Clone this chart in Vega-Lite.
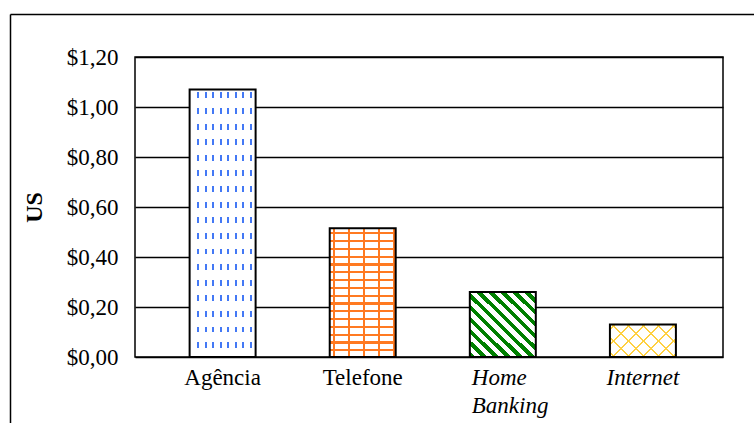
{
  "$schema": "https://vega.github.io/schema/vega-lite/v6.json",
  "width": 588,
  "height": 300,
  "autosize": {"type": "none"},
  "padding": {"left": 135, "top": 57, "right": 31, "bottom": 66},
  "background": "white",
  "config": {
    "view": {"stroke": "black", "strokeWidth": 1.5},
    "font": "Liberation Serif",
    "axis": {"labelFont": "Liberation Serif", "labelColor": "black", "titleFont": "Liberation Serif", "titleColor": "black"}
  },
  "data": {
    "values": [
      {"canal": "Agência", "custo": 1.07},
      {"canal": "Telefone", "custo": 0.515},
      {"canal": "Home Banking", "custo": 0.26},
      {"canal": "Internet", "custo": 0.13}
    ]
  },
  "layer": [
    {
      "encoding": {
        "x": {
          "field": "canal", "type": "nominal", "sort": null,
          "scale": {"paddingInner": 0.529, "paddingOuter": 0.363, "align": 0.537},
          "axis": {
            "orient": "bottom", "title": null, "domain": false, "ticks": false, "grid": false,
            "labelAngle": 0, "labelPadding": 9, "labelFont": "Liberation Serif", "labelFontSize": 23, "labelLineHeight": 28,
            "labelOverlap": false, "labelBound": false,
            "labelExpr": "datum.value === 'Home Banking' ? ['Home', 'Banking'] : datum.label",
            "labelFontStyle": {"condition": {"test": "datum.value === 'Home Banking' || datum.value === 'Internet'", "value": "italic"}, "value": "normal"},
            "labelAlign": {"condition": {"test": "datum.value === 'Home Banking'", "value": "left"}, "value": "center"},
            "labelOffset": {"condition": {"test": "datum.value === 'Home Banking'", "value": -31}, "value": 0}
          }
        },
        "y": {
          "field": "custo", "type": "quantitative",
          "scale": {"domain": [0, 1.2], "nice": false},
          "axis": {
            "orient": "left", "title": "US", "titleFont": "Liberation Serif", "titleFontSize": 24, "titleFontWeight": "bold", "titlePadding": 20,
            "values": [0, 0.2, 0.4, 0.6, 0.8, 1, 1.2],
            "labelExpr": "'$' + replace(format(datum.value, '.2f'), '.', ',')",
            "domain": false, "ticks": false, "grid": true, "gridColor": "black", "gridWidth": 1.3,
            "labelFont": "Liberation Serif", "labelPadding": 17, "labelFontSize": 23
          }
        }
      },
      "layer": [
        {
          "transform": [{"filter": "datum.canal === 'Agência'"}],
          "mark": {"type": "bar", "fill": {"gradient": "linear", "x1": 0, "y1": 0, "x2": 1, "y2": 0, "stops": [
            {"offset": 0, "color": "white"},
            {"offset": 0.1167, "color": "white"}, {"offset": 0.1167, "color": "#4479f5"}, {"offset": 0.147, "color": "#4479f5"}, {"offset": 0.147, "color": "white"},
            {"offset": 0.2303, "color": "white"}, {"offset": 0.2303, "color": "#4479f5"}, {"offset": 0.2606, "color": "#4479f5"}, {"offset": 0.2606, "color": "white"},
            {"offset": 0.3439, "color": "white"}, {"offset": 0.3439, "color": "#4479f5"}, {"offset": 0.3742, "color": "#4479f5"}, {"offset": 0.3742, "color": "white"},
            {"offset": 0.4576, "color": "white"}, {"offset": 0.4576, "color": "#4479f5"}, {"offset": 0.4879, "color": "#4479f5"}, {"offset": 0.4879, "color": "white"},
            {"offset": 0.5712, "color": "white"}, {"offset": 0.5712, "color": "#4479f5"}, {"offset": 0.6015, "color": "#4479f5"}, {"offset": 0.6015, "color": "white"},
            {"offset": 0.6848, "color": "white"}, {"offset": 0.6848, "color": "#4479f5"}, {"offset": 0.7152, "color": "#4479f5"}, {"offset": 0.7152, "color": "white"},
            {"offset": 0.7985, "color": "white"}, {"offset": 0.7985, "color": "#4479f5"}, {"offset": 0.8288, "color": "#4479f5"}, {"offset": 0.8288, "color": "white"},
            {"offset": 0.9121, "color": "white"}, {"offset": 0.9121, "color": "#4479f5"}, {"offset": 0.9424, "color": "#4479f5"}, {"offset": 0.9424, "color": "white"},
            {"offset": 1, "color": "white"}
          ]}, "strokeWidth": 0}
        },
        {
          "transform": [{"filter": "datum.canal === 'Agência'"}],
          "mark": {"type": "bar", "fill": {"gradient": "linear", "x1": 0, "y1": 0, "x2": 0, "y2": 1, "stops": [
            {"offset": 0, "color": "white"},
            {"offset": 0.0112, "color": "white"}, {"offset": 0.0112, "color": "rgba(255,255,255,0)"}, {"offset": 0.0336, "color": "rgba(255,255,255,0)"}, {"offset": 0.0336, "color": "white"},
            {"offset": 0.0695, "color": "white"}, {"offset": 0.0695, "color": "rgba(255,255,255,0)"}, {"offset": 0.0919, "color": "rgba(255,255,255,0)"}, {"offset": 0.0919, "color": "white"},
            {"offset": 0.1278, "color": "white"}, {"offset": 0.1278, "color": "rgba(255,255,255,0)"}, {"offset": 0.1502, "color": "rgba(255,255,255,0)"}, {"offset": 0.1502, "color": "white"},
            {"offset": 0.1862, "color": "white"}, {"offset": 0.1862, "color": "rgba(255,255,255,0)"}, {"offset": 0.2086, "color": "rgba(255,255,255,0)"}, {"offset": 0.2086, "color": "white"},
            {"offset": 0.2445, "color": "white"}, {"offset": 0.2445, "color": "rgba(255,255,255,0)"}, {"offset": 0.2669, "color": "rgba(255,255,255,0)"}, {"offset": 0.2669, "color": "white"},
            {"offset": 0.3028, "color": "white"}, {"offset": 0.3028, "color": "rgba(255,255,255,0)"}, {"offset": 0.3252, "color": "rgba(255,255,255,0)"}, {"offset": 0.3252, "color": "white"},
            {"offset": 0.3611, "color": "white"}, {"offset": 0.3611, "color": "rgba(255,255,255,0)"}, {"offset": 0.3835, "color": "rgba(255,255,255,0)"}, {"offset": 0.3835, "color": "white"},
            {"offset": 0.4194, "color": "white"}, {"offset": 0.4194, "color": "rgba(255,255,255,0)"}, {"offset": 0.4418, "color": "rgba(255,255,255,0)"}, {"offset": 0.4418, "color": "white"},
            {"offset": 0.4778, "color": "white"}, {"offset": 0.4778, "color": "rgba(255,255,255,0)"}, {"offset": 0.5002, "color": "rgba(255,255,255,0)"}, {"offset": 0.5002, "color": "white"},
            {"offset": 0.5361, "color": "white"}, {"offset": 0.5361, "color": "rgba(255,255,255,0)"}, {"offset": 0.5585, "color": "rgba(255,255,255,0)"}, {"offset": 0.5585, "color": "white"},
            {"offset": 0.5944, "color": "white"}, {"offset": 0.5944, "color": "rgba(255,255,255,0)"}, {"offset": 0.6168, "color": "rgba(255,255,255,0)"}, {"offset": 0.6168, "color": "white"},
            {"offset": 0.6527, "color": "white"}, {"offset": 0.6527, "color": "rgba(255,255,255,0)"}, {"offset": 0.6751, "color": "rgba(255,255,255,0)"}, {"offset": 0.6751, "color": "white"},
            {"offset": 0.711, "color": "white"}, {"offset": 0.711, "color": "rgba(255,255,255,0)"}, {"offset": 0.7334, "color": "rgba(255,255,255,0)"}, {"offset": 0.7334, "color": "white"},
            {"offset": 0.7694, "color": "white"}, {"offset": 0.7694, "color": "rgba(255,255,255,0)"}, {"offset": 0.7918, "color": "rgba(255,255,255,0)"}, {"offset": 0.7918, "color": "white"},
            {"offset": 0.8277, "color": "white"}, {"offset": 0.8277, "color": "rgba(255,255,255,0)"}, {"offset": 0.8501, "color": "rgba(255,255,255,0)"}, {"offset": 0.8501, "color": "white"},
            {"offset": 0.886, "color": "white"}, {"offset": 0.886, "color": "rgba(255,255,255,0)"}, {"offset": 0.9084, "color": "rgba(255,255,255,0)"}, {"offset": 0.9084, "color": "white"},
            {"offset": 0.9443, "color": "white"}, {"offset": 0.9443, "color": "rgba(255,255,255,0)"}, {"offset": 0.9667, "color": "rgba(255,255,255,0)"}, {"offset": 0.9667, "color": "white"},
            {"offset": 1, "color": "white"}
          ]}, "strokeWidth": 0}
        },
        {
          "transform": [{"filter": "datum.canal === 'Telefone'"}],
          "mark": {"type": "bar", "fill": {"gradient": "linear", "x1": 0, "y1": 0, "x2": 0, "y2": 1, "stops": [
            {"offset": 0, "color": "white"},
            {"offset": 0.0303, "color": "white"}, {"offset": 0.0303, "color": "#ff7a21"}, {"offset": 0.0474, "color": "#ff7a21"}, {"offset": 0.0474, "color": "white"},
            {"offset": 0.0909, "color": "white"}, {"offset": 0.0909, "color": "#ff7a21"}, {"offset": 0.108, "color": "#ff7a21"}, {"offset": 0.108, "color": "white"},
            {"offset": 0.1515, "color": "white"}, {"offset": 0.1515, "color": "#ff7a21"}, {"offset": 0.1685, "color": "#ff7a21"}, {"offset": 0.1685, "color": "white"},
            {"offset": 0.212, "color": "white"}, {"offset": 0.212, "color": "#ff7a21"}, {"offset": 0.2291, "color": "#ff7a21"}, {"offset": 0.2291, "color": "white"},
            {"offset": 0.2726, "color": "white"}, {"offset": 0.2726, "color": "#ff7a21"}, {"offset": 0.2897, "color": "#ff7a21"}, {"offset": 0.2897, "color": "white"},
            {"offset": 0.3332, "color": "white"}, {"offset": 0.3332, "color": "#ff7a21"}, {"offset": 0.3503, "color": "#ff7a21"}, {"offset": 0.3503, "color": "white"},
            {"offset": 0.3938, "color": "white"}, {"offset": 0.3938, "color": "#ff7a21"}, {"offset": 0.4109, "color": "#ff7a21"}, {"offset": 0.4109, "color": "white"},
            {"offset": 0.4544, "color": "white"}, {"offset": 0.4544, "color": "#ff7a21"}, {"offset": 0.4715, "color": "#ff7a21"}, {"offset": 0.4715, "color": "white"},
            {"offset": 0.515, "color": "white"}, {"offset": 0.515, "color": "#ff7a21"}, {"offset": 0.532, "color": "#ff7a21"}, {"offset": 0.532, "color": "white"},
            {"offset": 0.5755, "color": "white"}, {"offset": 0.5755, "color": "#ff7a21"}, {"offset": 0.5926, "color": "#ff7a21"}, {"offset": 0.5926, "color": "white"},
            {"offset": 0.6361, "color": "white"}, {"offset": 0.6361, "color": "#ff7a21"}, {"offset": 0.6532, "color": "#ff7a21"}, {"offset": 0.6532, "color": "white"},
            {"offset": 0.6967, "color": "white"}, {"offset": 0.6967, "color": "#ff7a21"}, {"offset": 0.7138, "color": "#ff7a21"}, {"offset": 0.7138, "color": "white"},
            {"offset": 0.7573, "color": "white"}, {"offset": 0.7573, "color": "#ff7a21"}, {"offset": 0.7744, "color": "#ff7a21"}, {"offset": 0.7744, "color": "white"},
            {"offset": 0.8179, "color": "white"}, {"offset": 0.8179, "color": "#ff7a21"}, {"offset": 0.835, "color": "#ff7a21"}, {"offset": 0.835, "color": "white"},
            {"offset": 0.8784, "color": "white"}, {"offset": 0.8784, "color": "#ff7a21"}, {"offset": 0.8955, "color": "#ff7a21"}, {"offset": 0.8955, "color": "white"},
            {"offset": 0.939, "color": "white"}, {"offset": 0.939, "color": "#ff7a21"}, {"offset": 0.9561, "color": "#ff7a21"}, {"offset": 0.9561, "color": "white"},
            {"offset": 1, "color": "white"}
          ]}, "strokeWidth": 0}
        },
        {
          "transform": [{"filter": "datum.canal === 'Telefone'"}],
          "mark": {"type": "bar", "fill": {"gradient": "linear", "x1": 0, "y1": 0, "x2": 1, "y2": 0, "stops": [
            {"offset": 0, "color": "rgba(255,255,255,0)"},
            {"offset": 0.0455, "color": "rgba(255,255,255,0)"}, {"offset": 0.0455, "color": "#ff7a21"}, {"offset": 0.0758, "color": "#ff7a21"}, {"offset": 0.0758, "color": "rgba(255,255,255,0)"},
            {"offset": 0.2727, "color": "rgba(255,255,255,0)"}, {"offset": 0.2727, "color": "#ff7a21"}, {"offset": 0.303, "color": "#ff7a21"}, {"offset": 0.303, "color": "rgba(255,255,255,0)"},
            {"offset": 0.5, "color": "rgba(255,255,255,0)"}, {"offset": 0.5, "color": "#ff7a21"}, {"offset": 0.5303, "color": "#ff7a21"}, {"offset": 0.5303, "color": "rgba(255,255,255,0)"},
            {"offset": 0.7273, "color": "rgba(255,255,255,0)"}, {"offset": 0.7273, "color": "#ff7a21"}, {"offset": 0.7576, "color": "#ff7a21"}, {"offset": 0.7576, "color": "rgba(255,255,255,0)"},
            {"offset": 0.9545, "color": "rgba(255,255,255,0)"}, {"offset": 0.9545, "color": "#ff7a21"}, {"offset": 0.9848, "color": "#ff7a21"}, {"offset": 0.9848, "color": "rgba(255,255,255,0)"},
            {"offset": 1, "color": "rgba(255,255,255,0)"}
          ]}, "strokeWidth": 0}
        },
        {
          "transform": [{"filter": "datum.canal === 'Home Banking'"}],
          "mark": {"type": "bar", "fill": {"gradient": "linear", "x1": 0, "y1": 1, "x2": 1, "y2": 0, "stops": [
            {"offset": 0, "color": "#008000"}, {"offset": 0.041, "color": "#008000"}, {"offset": 0.041, "color": "white"},
            {"offset": 0.0909, "color": "white"}, {"offset": 0.0909, "color": "#008000"}, {"offset": 0.1319, "color": "#008000"}, {"offset": 0.1319, "color": "white"},
            {"offset": 0.1818, "color": "white"}, {"offset": 0.1818, "color": "#008000"}, {"offset": 0.2228, "color": "#008000"}, {"offset": 0.2228, "color": "white"},
            {"offset": 0.2727, "color": "white"}, {"offset": 0.2727, "color": "#008000"}, {"offset": 0.3137, "color": "#008000"}, {"offset": 0.3137, "color": "white"},
            {"offset": 0.3636, "color": "white"}, {"offset": 0.3636, "color": "#008000"}, {"offset": 0.4046, "color": "#008000"}, {"offset": 0.4046, "color": "white"},
            {"offset": 0.4545, "color": "white"}, {"offset": 0.4545, "color": "#008000"}, {"offset": 0.4955, "color": "#008000"}, {"offset": 0.4955, "color": "white"},
            {"offset": 0.5455, "color": "white"}, {"offset": 0.5455, "color": "#008000"}, {"offset": 0.5865, "color": "#008000"}, {"offset": 0.5865, "color": "white"},
            {"offset": 0.6364, "color": "white"}, {"offset": 0.6364, "color": "#008000"}, {"offset": 0.6774, "color": "#008000"}, {"offset": 0.6774, "color": "white"},
            {"offset": 0.7273, "color": "white"}, {"offset": 0.7273, "color": "#008000"}, {"offset": 0.7683, "color": "#008000"}, {"offset": 0.7683, "color": "white"},
            {"offset": 0.8182, "color": "white"}, {"offset": 0.8182, "color": "#008000"}, {"offset": 0.8592, "color": "#008000"}, {"offset": 0.8592, "color": "white"},
            {"offset": 0.9091, "color": "white"}, {"offset": 0.9091, "color": "#008000"}, {"offset": 0.9501, "color": "#008000"}, {"offset": 0.9501, "color": "white"},
            {"offset": 1, "color": "white"}
          ]}, "strokeWidth": 0}
        },
        {
          "transform": [{"filter": "datum.canal === 'Internet'"}],
          "mark": {"type": "bar", "fill": {"gradient": "linear", "x1": 0, "y1": 1, "x2": 1.2011, "y2": 0.4085, "stops": [
            {"offset": 0, "color": "white"},
            {"offset": 0.0392, "color": "white"}, {"offset": 0.0392, "color": "#ffd040"}, {"offset": 0.0608, "color": "#ffd040"}, {"offset": 0.0608, "color": "white"},
            {"offset": 0.1914, "color": "white"}, {"offset": 0.1914, "color": "#ffd040"}, {"offset": 0.213, "color": "#ffd040"}, {"offset": 0.213, "color": "white"},
            {"offset": 0.3436, "color": "white"}, {"offset": 0.3436, "color": "#ffd040"}, {"offset": 0.3652, "color": "#ffd040"}, {"offset": 0.3652, "color": "white"},
            {"offset": 0.4958, "color": "white"}, {"offset": 0.4958, "color": "#ffd040"}, {"offset": 0.5174, "color": "#ffd040"}, {"offset": 0.5174, "color": "white"},
            {"offset": 0.648, "color": "white"}, {"offset": 0.648, "color": "#ffd040"}, {"offset": 0.6696, "color": "#ffd040"}, {"offset": 0.6696, "color": "white"},
            {"offset": 0.8002, "color": "white"}, {"offset": 0.8002, "color": "#ffd040"}, {"offset": 0.8218, "color": "#ffd040"}, {"offset": 0.8218, "color": "white"},
            {"offset": 0.9524, "color": "white"}, {"offset": 0.9524, "color": "#ffd040"}, {"offset": 0.974, "color": "#ffd040"}, {"offset": 0.974, "color": "white"},
            {"offset": 1, "color": "white"}
          ]}, "strokeWidth": 0}
        },
        {
          "transform": [{"filter": "datum.canal === 'Internet'"}],
          "mark": {"type": "bar", "fill": {"gradient": "linear", "x1": 0, "y1": 0, "x2": 1.2011, "y2": 0.5915, "stops": [
            {"offset": 0, "color": "rgba(255,255,255,0)"},
            {"offset": 0.0392, "color": "rgba(255,255,255,0)"}, {"offset": 0.0392, "color": "#ffd040"}, {"offset": 0.0608, "color": "#ffd040"}, {"offset": 0.0608, "color": "rgba(255,255,255,0)"},
            {"offset": 0.1914, "color": "rgba(255,255,255,0)"}, {"offset": 0.1914, "color": "#ffd040"}, {"offset": 0.213, "color": "#ffd040"}, {"offset": 0.213, "color": "rgba(255,255,255,0)"},
            {"offset": 0.3436, "color": "rgba(255,255,255,0)"}, {"offset": 0.3436, "color": "#ffd040"}, {"offset": 0.3652, "color": "#ffd040"}, {"offset": 0.3652, "color": "rgba(255,255,255,0)"},
            {"offset": 0.4958, "color": "rgba(255,255,255,0)"}, {"offset": 0.4958, "color": "#ffd040"}, {"offset": 0.5174, "color": "#ffd040"}, {"offset": 0.5174, "color": "rgba(255,255,255,0)"},
            {"offset": 0.648, "color": "rgba(255,255,255,0)"}, {"offset": 0.648, "color": "#ffd040"}, {"offset": 0.6696, "color": "#ffd040"}, {"offset": 0.6696, "color": "rgba(255,255,255,0)"},
            {"offset": 0.8002, "color": "rgba(255,255,255,0)"}, {"offset": 0.8002, "color": "#ffd040"}, {"offset": 0.8218, "color": "#ffd040"}, {"offset": 0.8218, "color": "rgba(255,255,255,0)"},
            {"offset": 0.9524, "color": "rgba(255,255,255,0)"}, {"offset": 0.9524, "color": "#ffd040"}, {"offset": 0.974, "color": "#ffd040"}, {"offset": 0.974, "color": "rgba(255,255,255,0)"},
            {"offset": 1, "color": "rgba(255,255,255,0)"}
          ]}, "strokeWidth": 0}
        },
        {
          "mark": {"type": "bar", "filled": false, "stroke": "black", "strokeWidth": 2}
        }
      ]
    },
    {
      "mark": {"type": "point", "opacity": 0},
      "encoding": {
        "x": {
          "field": "canal", "type": "nominal", "sort": null,
          "scale": {"range": [-125, 640]},
          "axis": {"orient": "top", "offset": 43, "title": null, "labels": false, "ticks": false, "grid": false, "domain": true, "domainColor": "black", "domainWidth": 1.5}
        },
        "y": {
          "field": "custo", "type": "quantitative",
          "scale": {"range": [376, -43]},
          "axis": {"orient": "left", "offset": 125, "title": null, "labels": false, "ticks": false, "grid": false, "domain": true, "domainColor": "black", "domainWidth": 1.5}
        }
      }
    }
  ],
  "resolve": {
    "scale": {"x": "independent", "y": "independent"},
    "axis": {"x": "independent", "y": "independent"}
  }
}
